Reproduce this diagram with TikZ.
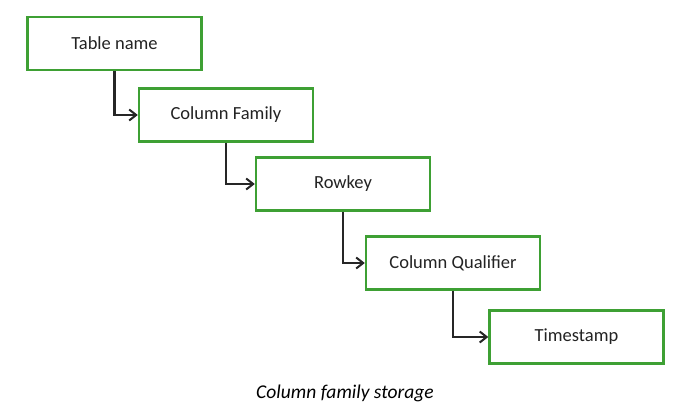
\documentclass[tikz,border=0pt]{standalone}
\usepackage{fontspec}
\setmainfont{Carlito}
\usetikzlibrary{arrows.meta}
\definecolor{boxgreen}{RGB}{62,160,52}
\definecolor{txtgray}{RGB}{35,35,35}
\tikzset{
  stagebox/.style={draw=boxgreen, line width=2.4pt, fill=white, minimum width=174pt, minimum height=53pt, inner sep=0pt, text=txtgray, font=\fontsize{18.5}{20}\selectfont},
  link/.style={draw=black!85, line width=2.2pt, -{Straight Barb[length=7pt,width=11pt,line width=2pt]}}
}
\begin{document}
\begin{tikzpicture}[x=1pt,y=-1pt]
\useasboundingbox (0,0) rectangle (684,410);
\node[stagebox] (t) at (114.5,43.5) {Table name};
\node[stagebox] (cf) at (226,115) {Column Family};
\node[stagebox] (rk) at (343,184) {Rowkey};
\node[stagebox] (cq) at (453,263) {Column Qualifier};
\node[stagebox] (ts) at (576.5,337) {Timestamp};
\draw[link] (t.south) |- (cf.west);
\draw[link] (cf.south) |- (rk.west);
\draw[link] (rk.south) |- (cq.west);
\draw[link] (cq.south) |- (ts.west);
\node[font=\fontsize{19.5}{22}\selectfont\itshape, anchor=base] (cap) at (345,398) {Column family storage};
\end{tikzpicture}
\end{document}
